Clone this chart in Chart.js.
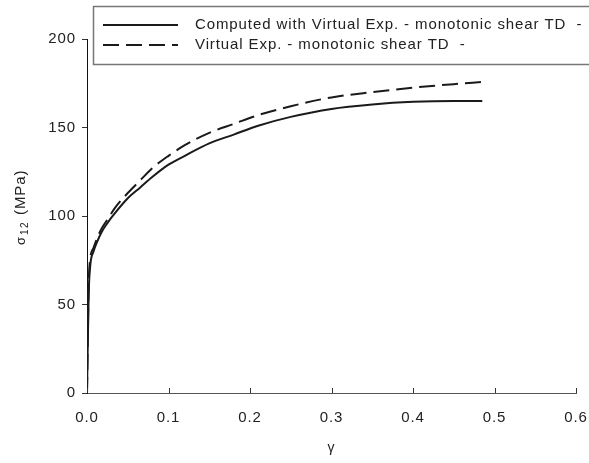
<!DOCTYPE html>
<html>
<head>
<meta charset="utf-8">
<script src="https://cdn.jsdelivr.net/npm/chart.js@4"></script>
<style>
  html, body { margin: 0; padding: 0; background: #fff; }
  #wrap { width: 589px; height: 463px; }
</style>
</head>
<body>
<div id="wrap"><canvas id="shearChart" width="589" height="463"></canvas></div>
<script>
const gamma = [0, 0.002, 0.004, 0.008, 0.012, 0.018, 0.025, 0.035, 0.05, 0.065, 0.08, 0.1, 0.12, 0.15, 0.18, 0.21, 0.25, 0.3, 0.35, 0.4, 0.45, 0.485];
const computedStress = [0, 55, 72, 80, 85, 91, 96, 102, 110, 116, 122, 129, 134, 141, 146, 151, 156, 160.5, 163, 164.5, 165, 165];
const virtualStress = [0, 60, 76, 82, 87, 93, 98, 105, 113, 120, 127, 134, 140, 147, 152, 157, 162, 167, 170, 172.5, 174.5, 175.7];
const seriesLabels = ['Computed with Virtual Exp. - monotonic shear TD  -', 'Virtual Exp. - monotonic shear TD  -'];
const xTicks = [0, 0.1, 0.2, 0.3, 0.4, 0.5, 0.6];
const yTicks = [0, 50, 100, 150, 200];

const FONT = '"Liberation Sans", Arial, sans-serif';
const toPoints = (ys) => gamma.map((g, i) => ({ x: g, y: ys[i] }));

// wider letter spacing like the original figure
const spacing = {
    id: 'spacing',
    beforeDraw(chart) { chart.ctx.letterSpacing = '0.9px'; },
};

// legend box, inward x ticks and axis titles
const decorations = {
    id: 'decorations',
    afterDraw(chart) {
        const ctx = chart.ctx;
        const xs = chart.scales.x;
        const area = chart.chartArea;
        ctx.save();

        ctx.strokeStyle = '#333';
        ctx.lineWidth = 1;
        xTicks.forEach((v) => {
            const px = Math.round(xs.getPixelForValue(v)) + 0.5;
            ctx.beginPath();
            ctx.moveTo(px, area.bottom);
            ctx.lineTo(px, area.bottom - 5);
            ctx.stroke();
        });

        // legend
        ctx.fillStyle = '#fff';
        ctx.fillRect(93, 6, 520, 58);
        ctx.strokeStyle = '#777';
        ctx.lineWidth = 1.5;
        ctx.strokeRect(93.5, 6.5, 520, 58);

        chart.data.datasets.forEach((ds, i) => {
            const y = 25 + i * 20;
            ctx.strokeStyle = '#1a1a1a';
            ctx.lineWidth = 2;
            ctx.setLineDash(ds.borderDash || []);
            ctx.beginPath();
            ctx.moveTo(103, y);
            ctx.lineTo(178, y);
            ctx.stroke();
            ctx.setLineDash([]);
            ctx.fillStyle = '#222';
            ctx.font = '15px ' + FONT;
            ctx.textBaseline = 'middle';
            ctx.textAlign = 'left';
            ctx.fillText(ds.label, 195, y);
        });

        // y title with subscript
        ctx.translate(25, 208);
        ctx.rotate(-Math.PI / 2);
        ctx.fillStyle = '#222';
        ctx.textBaseline = 'alphabetic';
        ctx.textAlign = 'left';
        ctx.font = '13px ' + FONT;
        ctx.fillText('σ', -37, 0);
        ctx.font = '10px ' + FONT;
        ctx.letterSpacing = '1.5px';
        ctx.fillText('12', -27, 3);
        ctx.letterSpacing = '0.9px';
        ctx.font = '15px ' + FONT;
        ctx.fillText('(MPa)', -7, 0);
        ctx.restore();

        ctx.save();
        ctx.fillStyle = '#222';
        ctx.font = '14px ' + FONT;
        ctx.textAlign = 'center';
        ctx.textBaseline = 'middle';
        ctx.fillText('γ', xs.getPixelForValue(0.3), 448);
        ctx.restore();
    }
};

new Chart(document.getElementById('shearChart').getContext('2d'), {
    type: 'scatter',
    data: {
        datasets: [
            {
                label: seriesLabels[0],
                data: toPoints(computedStress),
                showLine: true,
                borderColor: '#1a1a1a',
                borderWidth: 2,
                pointRadius: 0,
                cubicInterpolationMode: 'monotone',
            },
            {
                label: seriesLabels[1],
                data: toPoints(virtualStress),
                showLine: true,
                borderColor: '#1a1a1a',
                borderWidth: 2,
                borderDash: [16, 7],
                pointRadius: 0,
                cubicInterpolationMode: 'monotone',
            },
        ],
    },
    options: {
        responsive: false,
        animation: false,
        devicePixelRatio: 1,
        layout: { padding: { top: 39, right: 13, left: 0, bottom: 0 } },
        plugins: {
            legend: { display: false },
            tooltip: { enabled: false },
        },
        scales: {
            x: {
                type: 'linear',
                min: 0,
                max: 0.6,
                afterBuildTicks: (s) => { s.ticks = xTicks.map((v) => ({ value: v })); },
                afterFit: (s) => { s.height = 70; s.paddingLeft = 0; s.paddingRight = 0; },
                ticks: {
                    color: '#222',
                    font: { family: FONT, size: 15 },
                    padding: 16,
                    maxRotation: 0,
                    callback: (v) => v.toFixed(1),
                },
                grid: { drawOnChartArea: false, drawTicks: false },
                border: { color: '#555', width: 1 },
            },
            y: {
                type: 'linear',
                min: 0,
                max: 200,
                afterBuildTicks: (s) => { s.ticks = yTicks.map((v) => ({ value: v })); },
                afterFit: (s) => { s.width = 87; s.paddingTop = 0; s.paddingBottom = 0; },
                ticks: {
                    color: '#222',
                    font: { family: FONT, size: 15 },
                    padding: 6,
                },
                grid: { drawOnChartArea: false, tickLength: 5, color: '#333' },
                border: { color: '#111', width: 1 },
            },
        },
    },
    plugins: [spacing, decorations],
});
</script>
</body>
</html>
